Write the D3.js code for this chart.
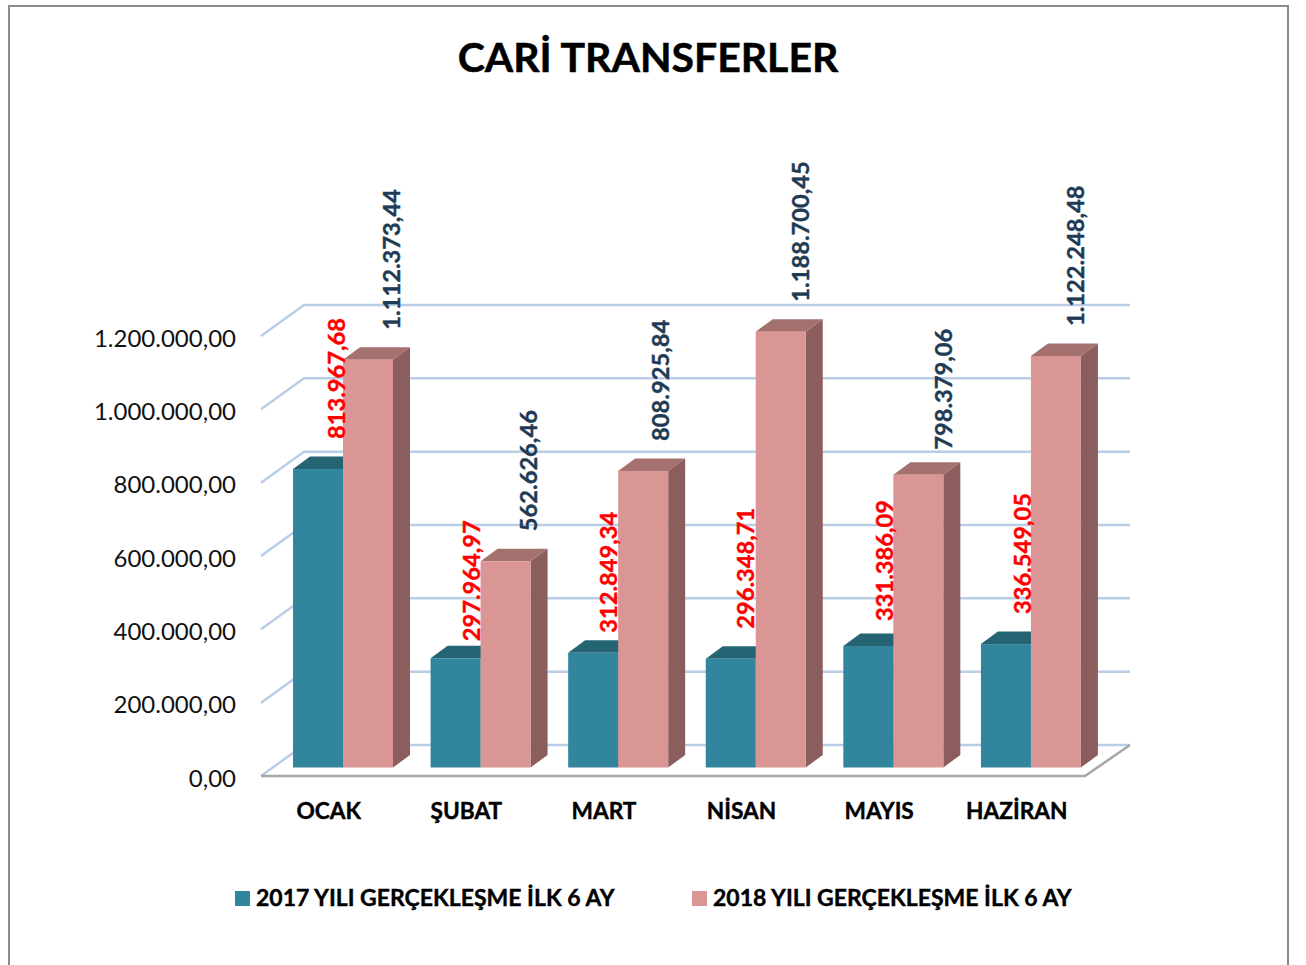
<!DOCTYPE html>
<html><head><meta charset="utf-8">
<script src="https://d3js.org/d3.v7.min.js"></script>
<style>html,body{margin:0;padding:0;background:#fff}svg{display:block}text{font-family:Lato,sans-serif}</style>
</head><body><svg id="c" width="1306" height="965"></svg>
<script>
const months = ["OCAK","ŞUBAT","MART","NİSAN","MAYIS","HAZİRAN"];
const seriesNames = ["2017 YILI GERÇEKLEŞME İLK 6 AY","2018 YILI GERÇEKLEŞME İLK 6 AY"];
const values2017 = [813967.68,297964.97,312849.34,296348.71,331386.09,336549.05];
const values2018 = [1112373.44,562626.46,808925.84,1188700.45,798379.06,1122248.48];
const tickValues = [0,200000,400000,600000,800000,1000000,1200000];
const title = "CARİ TRANSFERLER";
// hand-placed label offsets seen in the picture (along x, along y)
const nudge2017 = [[3,0],[0.5,13],[0,10],[0,0],[1,5],[1.5,0]];
const nudge2018 = [[3,0],[3,0],[-3,0],[0,0],[5,5],[0,0]];

const svg = d3.select("#c");
const loc = d3.formatLocale({decimal:",",thousands:".",grouping:[3],currency:["",""]});
const fmt = loc.format(",.2f");
const x = d3.scaleBand().domain(months).range([261,1086.5]);
const inner = d3.scaleBand().domain([0,1]).range([32,132]);
const y = d3.scaleLinear().domain([0,1200000]).range([776,336]);
const wall = {dx:43,dy:-31}, floorRight = {dx:45,dy:-31}, depth = {dx:17,dy:-12.5}, lift = 8.5;
const grid="#B9CDE5", floorC="#A6A6A6";

svg.append("rect").attr("x",9).attr("y",6).attr("width",1279).attr("height",1000)
  .attr("fill","#fff").attr("stroke","#8C8C8C").attr("stroke-width",2);
svg.append("text").attr("x",648).attr("y",72).attr("text-anchor","middle")
  .attr("font-size",41).attr("font-weight",700).attr("fill","#000")
  .attr("stroke","#000").attr("stroke-width",0.5).text(title);

// walls
const g = svg.append("g").attr("fill","none");
tickValues.forEach(v=>{
  g.append("path").attr("stroke",grid).attr("stroke-width",2.5)
   .attr("d",`M261,${y(v)}L${261+wall.dx},${y(v)+wall.dy}L1130,${y(v)+wall.dy}`);
});
g.append("path").attr("stroke",floorC).attr("stroke-width",2.5)
  .attr("d",`M261,${y(0)}L1085,${y(0)}L${1085+floorRight.dx},${y(0)+floorRight.dy}`);

// bars
const styles=[{f:"#31859C",t:"#256473",s:"#256473"},{f:"#D99694",t:"#A5716F",s:"#8B5E5D"}];
const bw = inner.bandwidth();
const bars = [values2017,values2018];
months.forEach((m,i)=>{
  bars.forEach((vals,k)=>{
    const st=styles[k], x0=x(m)+inner(k), x1=x0+bw, top=y(vals[i])-lift, bot=y(0)-lift;
    const b=svg.append("g");
    b.append("path").attr("fill",st.t).attr("d",`M${x0},${top}L${x0+depth.dx},${top+depth.dy}L${x1+depth.dx},${top+depth.dy}L${x1},${top}Z`);
    b.append("path").attr("fill",st.s).attr("d",`M${x1},${top}L${x1+depth.dx},${top+depth.dy}L${x1+depth.dx},${bot+depth.dy}L${x1},${bot}Z`);
    b.append("rect").attr("x",x0).attr("y",top).attr("width",bw).attr("height",bot-top).attr("fill",st.f);
  });
});
// value labels
const lblColor=["#FF0000","#1F3A55"], lblDx=[40,45];
months.forEach((m,i)=>{
  bars.forEach((vals,k)=>{
    const n=(k?nudge2018:nudge2017)[i];
    const lx=x(m)+inner(k)+lblDx[k]+n[0], ly=y(vals[i])-lift-30+n[1];
    svg.append("text").attr("transform",`translate(${lx+8.5},${ly}) rotate(-90)`)
      .attr("font-size",23.7).attr("font-weight",700).attr("fill",lblColor[k])
      .attr("stroke",lblColor[k]).attr("stroke-width",0.4).text(fmt(vals[i]));
  });
});
// axes
const ay=svg.append("g").attr("transform","translate(236,2.5)")
  .call(d3.axisLeft(y).tickValues(tickValues).tickSize(0).tickPadding(0).tickFormat(fmt));
ay.select(".domain").remove();
ay.selectAll("text").attr("font-size",24).attr("fill","#111").style("font-family","Lato,sans-serif");
const ax=svg.append("g").attr("transform","translate(-1,803)")
  .call(d3.axisBottom(x).tickSize(0).tickPadding(0));
ax.select(".domain").remove();
ax.selectAll("text").attr("font-size",22.7).attr("font-weight",700).attr("fill","#000")
  .attr("stroke","#000").attr("stroke-width",0.4).style("font-family","Lato,sans-serif");
// legend
const legX=[235,692];
seriesNames.forEach((s,i)=>{
  svg.append("rect").attr("x",legX[i]).attr("y",891).attr("width",15).attr("height",15).attr("fill",styles[i].f);
  svg.append("text").attr("x",legX[i]+21).attr("y",906).attr("font-size",23).attr("font-weight",700).attr("fill","#000")
    .attr("stroke","#000").attr("stroke-width",0.4).text(s);
});
</script></body></html>
